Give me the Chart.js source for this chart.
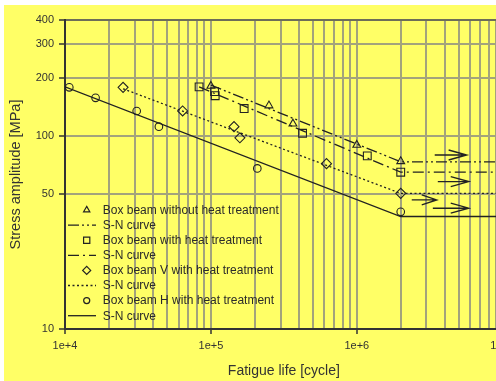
<!DOCTYPE html>
<html>
<head>
<meta charset="utf-8">
<script src="https://cdn.jsdelivr.net/npm/chart.js@4.4.0/dist/chart.umd.min.js"></script>
<style>
  html, body { margin: 0; padding: 0; background: #ffffff; width: 496px; height: 381px; overflow: hidden; }
  #frame { position: absolute; left: 4px; top: 5px; width: 540px; height: 376px; background: #ffff66; }
  canvas { display: block; }
</style>
</head>
<body>
<div id="frame"><canvas id="sn" width="540" height="376"></canvas></div>
<script>
// Fatigue test results (cycles to failure, stress amplitude in MPa)
const noHeatCycles = [1.0e5, 2.5e5, 3.65e5, 1.0e6, 2.0e6];
const noHeatStress = [182, 144, 116, 90, 74];
const heatCycles = [8.3e4, 1.06e5, 1.07e5, 1.69e5, 4.25e5, 1.18e6, 2.0e6];
const heatStress = [180, 170, 162, 139, 103.5, 79, 65];
const beamVCycles = [2.5e4, 6.4e4, 1.44e5, 1.58e5, 6.2e5, 2.0e6];
const beamVStress = [179, 135, 112, 98, 72, 50.5];
const beamHCycles = [1.07e4, 1.62e4, 3.1e4, 4.4e4, 2.08e5, 2.0e6];
const beamHStress = [179, 158, 135, 112, 68, 40.5];

// S-N curves: sloped part down to the knee at 2e6 cycles, then constant
const curveNoHeatCycles = [1.0e5, 2.0e6, 1.0e7];
const curveNoHeatStress = [184, 73.6, 73.6];
const curveHeatCycles = [8.3e4, 2.0e6, 1.0e7];
const curveHeatStress = [180, 65, 65];
const curveVCycles = [2.5e4, 2.0e6, 1.0e7];
const curveVStress = [176, 50.5, 50.5];
const curveHCycles = [1.0e4, 2.0e6, 1.0e7];
const curveHStress = [180, 38.3, 38.3];

// Run-out arrows (start cycles, end cycles, stress)
const runoutFrom = [3.42e6, 3.59e6, 2.38e6, 3.32e6];
const runoutTo = [5.66e6, 5.85e6, 3.53e6, 5.85e6];
const runoutStress = [79.8, 58.1, 46.7, 42.3];

// Axis ticks
const xDecades = [1e4, 1e5, 1e6, 1e7];
const xDecadeLabels = ['1e+4', '1e+5', '1e+6', '1e+7'];
const xMantissas = [1, 2, 3, 4, 5, 6, 7, 8, 9];
const yTicks = [10, 50, 100, 200, 300, 400];
const yTickLabels = ['10', '50', '100', '200', '300', '400'];

const xGrid = [];
xDecades.slice(0, 3).forEach(d => xMantissas.forEach(m => xGrid.push(m * d)));
xGrid.push(1e7);

const pts = (xs, ys) => xs.map((x, i) => ({ x: x, y: ys[i] }));
const INK = '#222222';
const FONT = '"Liberation Sans", Arial, sans-serif';

const markerSet = (label, xs, ys, style, r) => ({
  label: label, data: pts(xs, ys), showLine: false,
  pointStyle: style, pointRadius: r, pointHoverRadius: r,
  pointBorderWidth: 1.1, borderColor: INK, backgroundColor: 'rgba(0,0,0,0)'
});
const curveSet = (xs, ys, dash) => ({
  label: 'S-N curve', data: pts(xs, ys), showLine: true,
  pointRadius: 0, borderColor: INK, borderWidth: 1.3, borderDash: dash,
  backgroundColor: 'rgba(0,0,0,0)'
});

const datasets = [
  markerSet('Box beam without heat treatment', noHeatCycles, noHeatStress, 'triangle', 4.5),
  curveSet(curveNoHeatCycles, curveNoHeatStress, [11, 3, 2, 3, 2, 3]),
  markerSet('Box beam with heat treatment', heatCycles, heatStress, 'rect', 5.5),
  curveSet(curveHeatCycles, curveHeatStress, [11, 4, 2, 4]),
  markerSet('Box beam V with heat treatment', beamVCycles, beamVStress, 'rectRot', 5),
  curveSet(curveVCycles, curveVStress, [2, 2.5]),
  markerSet('Box beam H with heat treatment', beamHCycles, beamHStress, 'circle', 3.8),
  curveSet(curveHCycles, curveHStress, [])
];

// Legend drawn inside the lower-left of the plot area
const insideLegend = {
  id: 'insideLegend',
  afterDatasetsDraw(chart) {
    const { ctx, chartArea } = chart;
    ctx.save();
    ctx.font = '12px ' + FONT;
    ctx.textBaseline = 'middle';
    chart.data.datasets.forEach((ds, i) => {
      const y = chartArea.top + 190 + i * 15.1;
      ctx.strokeStyle = INK;
      ctx.fillStyle = 'rgba(0,0,0,0)';
      if (ds.showLine) {
        ctx.lineWidth = ds.borderWidth;
        ctx.setLineDash(ds.borderDash);
        ctx.beginPath();
        ctx.moveTo(chartArea.left + 3, y);
        ctx.lineTo(chartArea.left + 31, y);
        ctx.stroke();
        ctx.setLineDash([]);
      } else {
        ctx.lineWidth = 1.2;
        Chart.helpers.drawPoint(ctx, {
          pointStyle: ds.pointStyle, radius: ds.pointRadius * 0.8, borderWidth: 1.2, rotation: 0
        }, chartArea.left + 21.7, y);
      }
      ctx.fillStyle = '#2a2a2a';
      ctx.fillText(ds.label, chartArea.left + 37.7, y + 0.5);
    });
    ctx.restore();
  }
};

// Run-out arrows pointing to higher cycle counts
const runoutArrows = {
  id: 'runoutArrows',
  afterDatasetsDraw(chart) {
    const { ctx } = chart;
    const xs = chart.scales.x, ys = chart.scales.y;
    ctx.save();
    ctx.strokeStyle = INK;
    ctx.lineWidth = 1.4;
    runoutStress.forEach((s, i) => {
      const x0 = xs.getPixelForValue(runoutFrom[i]);
      const x1 = xs.getPixelForValue(runoutTo[i]);
      const y = ys.getPixelForValue(s);
      const back = Math.min(18, (x1 - x0) * 0.6);
      ctx.beginPath();
      ctx.moveTo(x0, y);
      ctx.lineTo(x1, y);
      ctx.moveTo(x1 - back, y - 5);
      ctx.lineTo(x1, y);
      ctx.lineTo(x1 - back, y + 5);
      ctx.stroke();
    });
    ctx.restore();
  }
};

const GRID = '#a3a37c';

new Chart(document.getElementById('sn'), {
  type: 'scatter',
  data: { datasets: datasets },
  options: {
    responsive: false,
    animation: false,
    devicePixelRatio: 1,
    layout: { padding: { left: 3.6, top: 15, right: 41.3, bottom: 0 } },
    plugins: { legend: { display: false }, tooltip: { enabled: false } },
    scales: {
      x: {
        type: 'logarithmic', min: 1e4, max: 1e7,
        afterBuildTicks: s => { s.ticks = xGrid.map(v => ({ value: v })); },
        afterFit: s => { s.height = 52; },
        ticks: {
          autoSkip: false, maxRotation: 0, minRotation: 0, padding: 5,
          color: '#333333', font: { family: FONT, size: 11 },
          callback: v => { const k = xDecades.indexOf(v); return k >= 0 ? xDecadeLabels[k] : ''; }
        },
        grid: {
          color: GRID, lineWidth: 2, tickLength: 5, tickWidth: 1.5,
          tickColor: c => (c.tick && xDecades.indexOf(c.tick.value) >= 0) ? '#333333' : 'rgba(0,0,0,0)'
        },
        border: { color: '#333333', width: 2 },
        title: {
          display: true, text: 'Fatigue life [cycle]', color: '#333333',
          font: { family: FONT, size: 14 }, padding: { top: 0, bottom: 1 }
        }
      },
      y: {
        type: 'logarithmic', min: 10, max: 400,
        afterBuildTicks: s => { s.ticks = yTicks.map(v => ({ value: v })); },
        afterFit: s => { s.width = 57.4; },
        ticks: {
          autoSkip: false, padding: 5, color: '#333333', font: { family: FONT, size: 11 },
          callback: v => { const k = yTicks.indexOf(v); return k >= 0 ? yTickLabels[k] : ''; }
        },
        grid: {
          color: c => (c.tick && c.tick.value === 400) ? '#6e6e58' : GRID,
          lineWidth: 2, tickLength: 6, tickWidth: 1.5, tickColor: '#333333'
        },
        border: { color: '#333333', width: 2 },
        title: {
          display: true, text: 'Stress amplitude [MPa]', color: '#333333',
          font: { family: FONT, size: 14.5 }, padding: { top: 0, bottom: 0 }
        }
      }
    }
  },
  plugins: [runoutArrows, insideLegend]
});
</script>
</body>
</html>
